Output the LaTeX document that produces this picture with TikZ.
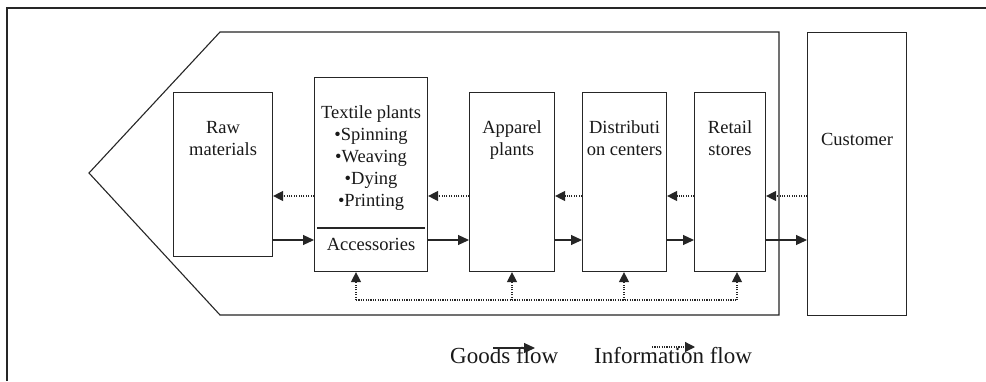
\documentclass[tikz,border=0pt]{standalone}
\usepackage{fontspec}
\setmainfont{Liberation Serif}
\usetikzlibrary{arrows.meta,calc}
\begin{document}
\begin{tikzpicture}[x=1pt,y=-1pt,
  line/.style={draw=black!85,line width=1.1pt},
  box/.style={line,rectangle,inner sep=0pt,anchor=north west},
  txt/.style={align=center,inner sep=0pt,anchor=base,
    font=\fontsize{18.5}{21.8}\selectfont,text=black!90},
  legtxt/.style={inner sep=0pt,anchor=base west,
    font=\fontsize{23}{26}\selectfont,text=black!90},
  goods/.style={line,-{Triangle[length=11pt,width=10pt]}},
  info/.style={draw=black!85,line width=1.2pt,dash pattern=on 1.1pt off 1.3pt,
    -{Triangle[length=10pt,width=10pt]}}]
\useasboundingbox (0,0) rectangle (986,381);
\fill[white] (0,0) rectangle (986,381);

% outer frame
\draw[line,line width=1.2pt] (7,381) -- (7,8) -- (986,8);

% supply chain enclosure
\draw[line] (220,32) -- (779,32) -- (779,315) -- (220,315) -- (89,173) -- cycle;

% stages
\node[box,minimum width=99pt,minimum height=164pt] (raw) at (173,92) {};
\node[box,minimum width=113pt,minimum height=194pt] (tex) at (314,77) {};
\node[box,minimum width=85pt,minimum height=179pt] (app) at (469,92) {};
\node[box,minimum width=84pt,minimum height=179pt] (dist) at (582,92) {};
\node[box,minimum width=71pt,minimum height=179pt] (ret) at (694,92) {};
\node[box,minimum width=99pt,minimum height=283pt] (cust) at (807,32) {};

% labels (base anchor sits on the last line)
\node[txt] (rawt) at ($(raw.north)+(0,63)$) {Raw\\materials};
\node[txt] (text) at ($(tex.north)+(0,129)$) {Textile plants\\•Spinning\\•Weaving\\•Dying\\•Printing};
\node[txt] (acc) at ($(tex.north)+(0,173)$) {Accessories};
\node[txt] (appt) at ($(app.north)+(0,63)$) {Apparel\\plants};
\node[txt] (distt) at ($(dist.north)+(0,63)$) {Distributi\\on centers};
\node[txt] (rett) at ($(ret.north)+(0,63)$) {Retail\\stores};
\node[txt] (custt) at ($(cust.north)+(0,113)$) {Customer};

% divider inside textile plants
\coordinate (dv) at (0,228);
\draw[line] ([xshift=3pt]tex.west |- dv) -- ([xshift=-3pt]tex.east |- dv);

% goods flow
\coordinate (gy) at (0,240);
\draw[goods] (raw.east |- gy) -- (tex.west |- gy);
\draw[goods] (tex.east |- gy) -- (app.west |- gy);
\draw[goods] (app.east |- gy) -- (dist.west |- gy);
\draw[goods] (dist.east |- gy) -- (ret.west |- gy);
\draw[goods] (ret.east |- gy) -- (cust.west |- gy);

% information flow
\coordinate (iy) at (0,196);
\draw[info] (tex.west |- iy) -- (raw.east |- iy);
\draw[info] (app.west |- iy) -- (tex.east |- iy);
\draw[info] (dist.west |- iy) -- (app.east |- iy);
\draw[info] (ret.west |- iy) -- (dist.east |- iy);
\draw[info] (cust.west |- iy) -- (ret.east |- iy);

% shared information feedback line
\coordinate (f1) at (356,300);
\coordinate (f2) at (512,300);
\coordinate (f3) at (624,300);
\coordinate (f4) at (737,300);
\draw[draw=black!85,line width=1.2pt,dash pattern=on 1.1pt off 1.3pt] (f1) -- (f4);
\draw[info] (f1) -- (f1 |- tex.south);
\draw[info] (f2) -- (f2 |- app.south);
\draw[info] (f3) -- (f3 |- dist.south);
\draw[info] (f4) -- (f4 |- ret.south);

% legend
\node[legtxt] (lg) at (450,363) {Goods flow};
\node[legtxt] (li) at (594,363) {Information flow};
\coordinate (ga) at (493,348);
\coordinate (gb) at (535,348);
\coordinate (ia) at (652,347);
\coordinate (ib) at (695,347);
\draw[goods] (ga) -- (gb);
\draw[info] (ia) -- (ib);
\end{tikzpicture}
\end{document}
